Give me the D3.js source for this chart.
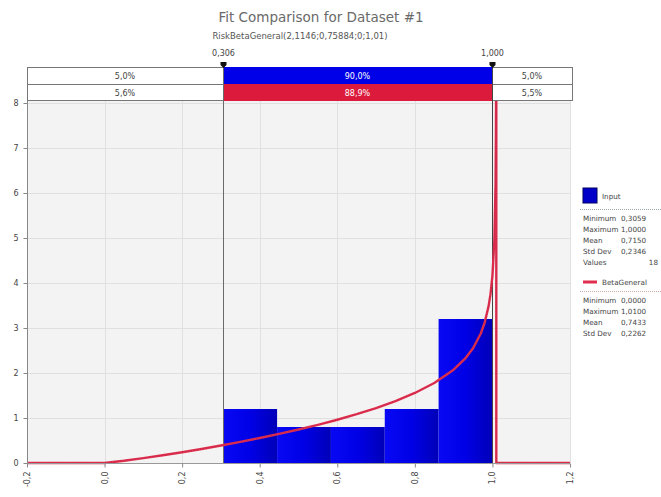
<!DOCTYPE html>
<html>
<head>
<meta charset="utf-8">
<script src="https://cdn.jsdelivr.net/npm/d3@7/dist/d3.min.js"></script>
<style>
  html, body { margin: 0; padding: 0; background: #fff; }
  svg { display: block; font-family: "DejaVu Sans", Tahoma, sans-serif; }
</style>
</head>
<body>
<svg id="chart" width="661" height="497"></svg>
<script>
// ---- data ----
const titleText = "Fit Comparison for Dataset #1";
const subtitleText = "RiskBetaGeneral(2,1146;0,75884;0;1,01)";

const xTickValues = [-0.2, 0.0, 0.2, 0.4, 0.6, 0.8, 1.0, 1.2];
const xTickLabels = ["-0,2", "0,0", "0,2", "0,4", "0,6", "0,8", "1,0", "1,2"];
const yTickValues = [0, 1, 2, 3, 4, 5, 6, 7, 8];

// histogram of the input data (density)
const binEdges = [0.306, 0.4448, 0.5836, 0.7224, 0.8612, 1.0];
const binDensity = [1.2, 0.8, 0.8, 1.2, 3.2];

// fitted BetaGeneral density
const fitX = [-0.2, 0.0, 0.05, 0.1, 0.15, 0.2, 0.25, 0.3, 0.35, 0.4, 0.45, 0.5, 0.55,
              0.6, 0.65, 0.7, 0.75, 0.8, 0.85, 0.9, 0.93, 0.95, 0.97, 0.98, 0.99,
              0.995, 1.0, 1.005, 1.008, 1.009, 1.0097, 1.01, 1.01, 1.2];
const fitY = [0, 0, 0.049, 0.108, 0.171, 0.240, 0.312, 0.389, 0.470, 0.556, 0.647, 0.744, 0.848,
              0.961, 1.084, 1.221, 1.376, 1.556, 1.778, 2.074, 2.323, 2.550, 2.878, 3.120, 3.480,
              3.750, 4.159, 4.943, 6.19, 7.32, 8.6, 9.5, 0, 0];

// delimiter markers and percentage bands
const markerValues = [0.306, 1.000];
const markerLabels = ["0,306", "1,000"];
const inputBands = ["5,0%", "90,0%", "5,0%"];
const fitBands = ["5,6%", "88,9%", "5,5%"];

// legend statistics
const inputStatNames = ["Minimum", "Maximum", "Mean", "Std Dev", "Values"];
const inputStatValues = ["0,3059", "1,0000", "0,7150", "0,2346", "18"];
const fitStatNames = ["Minimum", "Maximum", "Mean", "Std Dev"];
const fitStatValues = ["0,0000", "1,0100", "0,7433", "0,2262"];

// ---- layout ----
const svg = d3.select("#chart");
const plot = { left: 27, right: 570, top: 101, bottom: 463 };

const x = d3.scaleLinear().domain([-0.2, 1.2]).range([plot.left, plot.right]);
const y = d3.scaleLinear().domain([0, 8]).range([plot.bottom, 103]);

const blue = "#0000e8";
const red = "#dc1a3c";
const curveRed = "#de2f4f";

const defs = svg.append("defs");
const grad = defs.append("linearGradient").attr("id", "barGrad")
  .attr("x1", "0").attr("x2", "1").attr("y1", "0").attr("y2", "0");
grad.append("stop").attr("offset", "0").attr("stop-color", "#0808f4");
grad.append("stop").attr("offset", "0.5").attr("stop-color", "#0000e6");
grad.append("stop").attr("offset", "1").attr("stop-color", "#0000b8");

defs.append("clipPath").attr("id", "plotClip").append("rect")
  .attr("x", plot.left).attr("y", plot.top)
  .attr("width", plot.right - plot.left + 4).attr("height", plot.bottom - plot.top + 2);

// titles
svg.append("text").attr("x", 321).attr("y", 22).attr("text-anchor", "middle")
  .attr("font-size", 13.5).attr("fill", "#6a6a6a").text(titleText);
svg.append("text").attr("x", 300).attr("y", 39).attr("text-anchor", "middle")
  .attr("font-size", 8.5).attr("fill", "#555").text(subtitleText);

// plot background
svg.append("rect").attr("x", plot.left).attr("y", plot.top)
  .attr("width", plot.right - plot.left).attr("height", plot.bottom - plot.top)
  .attr("fill", "#f3f3f3");

// grid
const grid = svg.append("g");
grid.selectAll("line.h").data(yTickValues).join("line")
  .attr("x1", plot.left).attr("x2", plot.right)
  .attr("y1", d => y(d) + 0.5).attr("y2", d => y(d) + 0.5)
  .attr("stroke", "#e0e0e0");
grid.selectAll("line.v").data(xTickValues).join("line")
  .attr("y1", plot.top).attr("y2", plot.bottom)
  .attr("x1", d => Math.round(x(d)) + 0.5).attr("x2", d => Math.round(x(d)) + 0.5)
  .attr("stroke", "#e0e0e0");

// percentage bands above the plot
const bandRows = [
  { labels: inputBands, fill: blue, y0: 67, y1: 84 },
  { labels: fitBands, fill: red, y0: 84, y1: 100 }
];
const bandEdges = [x(-0.2), x(markerValues[0]), x(markerValues[1]), x(1.2) + 2];
bandRows.forEach(row => {
  const g = svg.append("g");
  row.labels.forEach((lab, i) => {
    const x0 = Math.round(bandEdges[i]), x1 = Math.round(bandEdges[i + 1]);
    const mid = i === 1;
    g.append("rect").attr("x", x0 + 0.5).attr("y", row.y0 + 0.5)
      .attr("width", x1 - x0).attr("height", row.y1 - row.y0)
      .attr("fill", mid ? row.fill : "#fff")
      .attr("stroke", mid ? row.fill : "#777");
    g.append("text").attr("x", (x0 + x1) / 2).attr("y", row.y0 + 12)
      .attr("text-anchor", "middle").attr("font-size", 8)
      .attr("fill", mid ? "#fff" : "#444").text(lab);
  });
});

// histogram bars
const bins = binDensity.map((d, i) => ({ x0: binEdges[i], x1: binEdges[i + 1], v: d }));
svg.append("g").selectAll("rect").data(bins).join("rect")
  .attr("x", d => x(d.x0)).attr("width", d => x(d.x1) - x(d.x0))
  .attr("y", d => y(d.v)).attr("height", d => y(0) - y(d.v))
  .attr("fill", "url(#barGrad)");

// delimiter lines
svg.append("line").attr("x1", Math.round(x(markerValues[0])) + 0.5)
  .attr("x2", Math.round(x(markerValues[0])) + 0.5)
  .attr("y1", 64).attr("y2", plot.bottom).attr("stroke", "#6a6a6a");
svg.append("line").attr("x1", Math.round(x(markerValues[1])) + 0.5)
  .attr("x2", Math.round(x(markerValues[1])) + 0.5)
  .attr("y1", 64).attr("y2", plot.bottom).attr("stroke", "#444");

// markers and their labels
markerValues.forEach((v, i) => {
  const cx = Math.round(x(v)) + 0.5;
  svg.append("path").attr("d", `M${cx - 3},62 L${cx + 3},62 L${cx + 3},65 L${cx},68 L${cx - 3},65 Z`)
    .attr("fill", "#111");
  svg.append("text").attr("x", cx).attr("y", 56).attr("text-anchor", "middle")
    .attr("font-size", 8).attr("fill", "#444").text(markerLabels[i]);
});

// fitted curve
const pts = fitX.map((d, i) => [d, fitY[i]]);
const line = d3.line().x(d => x(d[0])).y(d => y(d[1]));
const curveG = svg.append("g").attr("clip-path", "url(#plotClip)");
curveG.append("path").datum(pts).attr("d", line)
  .attr("fill", "none").attr("stroke", curveRed).attr("stroke-width", 2.4)
  .attr("stroke-linejoin", "round");
curveG.append("path").datum(pts).attr("d", line)
  .attr("fill", "none").attr("stroke", "#9a1030").attr("stroke-width", 0.8)
  .attr("stroke-dasharray", "1,2").attr("opacity", 0.55);

// axes
const yAxis = d3.axisLeft(y).tickValues(yTickValues).tickSize(4).tickFormat(d3.format("d"));
const gy = svg.append("g").attr("transform", `translate(${plot.left + 0.5},0)`).call(yAxis);
gy.select(".domain").attr("stroke", "#888").attr("d", `M0,${plot.top}V${plot.bottom}`);
gy.selectAll(".tick line").attr("stroke", "#888");
gy.selectAll(".tick text").attr("font-size", 8).attr("fill", "#444")
  .attr("font-family", "DejaVu Sans, sans-serif").attr("x", -9);

const xAxis = d3.axisBottom(x).tickValues(xTickValues).tickSize(4)
  .tickFormat((d, i) => xTickLabels[i]);
const gx = svg.append("g").attr("transform", `translate(0,${plot.bottom + 0.5})`).call(xAxis);
gx.select(".domain").attr("stroke", "#999").attr("d", `M${plot.left},0H${plot.right}`);
gx.selectAll(".tick line").attr("stroke", "#888");
gx.selectAll(".tick text").attr("font-size", 8).attr("fill", "#444")
  .attr("font-family", "DejaVu Sans, sans-serif")
  .attr("transform", "rotate(-90)").attr("text-anchor", "end")
  .attr("x", -8).attr("y", 0).attr("dy", "0.32em");

// legend
const lg = svg.append("g").attr("font-size", 7.2).attr("fill", "#444");
lg.append("rect").attr("x", 583).attr("y", 188).attr("width", 14).attr("height", 15)
  .attr("fill", "#0000c8").attr("stroke", "#000060");
lg.append("text").attr("x", 602).attr("y", 199).text("Input");
lg.append("line").attr("x1", 580).attr("x2", 661).attr("y1", 209.5).attr("y2", 209.5)
  .attr("stroke", "#9aa").attr("stroke-dasharray", "1,1");
inputStatNames.forEach((n, i) => {
  const yy = 221 + i * 11;
  lg.append("text").attr("x", 583).attr("y", yy).text(n);
  if (n === "Values") {
    lg.append("text").attr("x", 658).attr("y", yy).attr("text-anchor", "end").text(inputStatValues[i]);
  } else {
    lg.append("text").attr("x", 621).attr("y", yy).text(inputStatValues[i]);
  }
});
lg.append("line").attr("x1", 583).attr("x2", 597).attr("y1", 282).attr("y2", 282)
  .attr("stroke", curveRed).attr("stroke-width", 3);
lg.append("text").attr("x", 602).attr("y", 285).text("BetaGeneral");
lg.append("line").attr("x1", 580).attr("x2", 661).attr("y1", 291.5).attr("y2", 291.5)
  .attr("stroke", "#caa").attr("stroke-dasharray", "1,1");
fitStatNames.forEach((n, i) => {
  const yy = 303 + i * 11;
  lg.append("text").attr("x", 583).attr("y", yy).text(n);
  lg.append("text").attr("x", 621).attr("y", yy).text(fitStatValues[i]);
});
</script>
</body>
</html>
